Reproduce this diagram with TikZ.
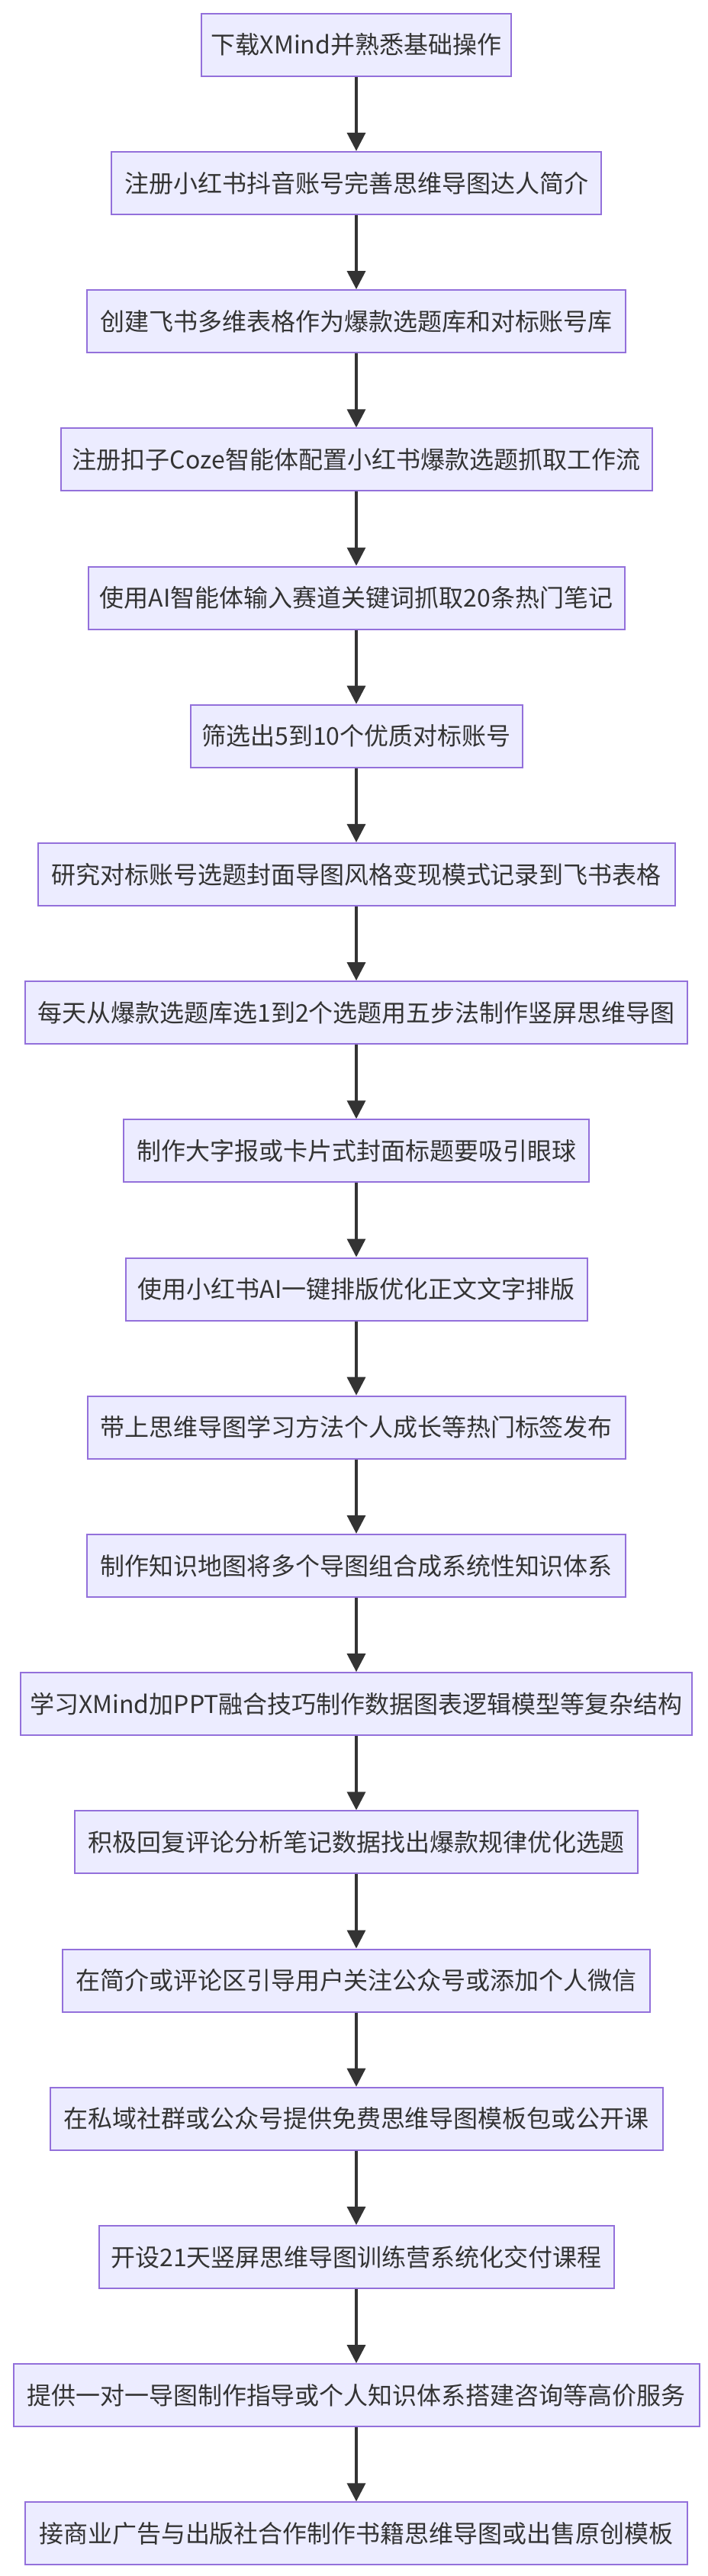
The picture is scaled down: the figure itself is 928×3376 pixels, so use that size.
\documentclass[tikz,border=0pt]{standalone}
\usepackage{fontspec}
\setmainfont{Noto Sans CJK SC}
\usetikzlibrary{arrows.meta}
\definecolor{boxfill}{HTML}{ECECFF}
\definecolor{boxline}{HTML}{9370DB}
\definecolor{ink}{HTML}{333333}
\begin{document}
\begin{tikzpicture}[x=1pt,y=1pt,
  stepbox/.style={draw=boxline, fill=boxfill, line width=2pt, rectangle,
    minimum height=82pt, inner xsep=12pt, inner ysep=0pt, text=ink,
    font=\fontsize{32}{38}\selectfont},
  flow/.style={draw=ink, line width=3.5pt, -{Triangle[length=24pt,width=24pt]}}]
\useasboundingbox (0,0) rectangle (928,-3376);
\foreach \t/\w [count=\i] in {
  下载XMind并熟悉基础操作/406,
  注册小红书抖音账号完善思维导图达人简介/642,
  创建飞书多维表格作为爆款选题库和对标账号库/706,
  注册扣子Coze智能体配置小红书爆款选题抓取工作流/775,
  使用AI智能体输入赛道关键词抓取20条热门笔记/703,
  筛选出5到10个优质对标账号/435,
  研究对标账号选题封面导图风格变现模式记录到飞书表格/835,
  每天从爆款选题库选1到2个选题用五步法制作竖屏思维导图/868,
  制作大字报或卡片式封面标题要吸引眼球/610,
  使用小红书AI一键排版优化正文文字排版/605,
  带上思维导图学习方法个人成长等热门标签发布/705,
  制作知识地图将多个导图组合成系统性知识体系/706,
  学习XMind加PPT融合技巧制作数据图表逻辑模型等复杂结构/877,
  积极回复评论分析笔记数据找出爆款规律优化选题/738,
  在简介或评论区引导用户关注公众号或添加个人微信/770,
  在私域社群或公众号提供免费思维导图模板包或公开课/803,
  开设21天竖屏思维导图训练营系统化交付课程/675,
  提供一对一导图制作指导或个人知识体系搭建咨询等高价服务/899,
  接商业广告与出版社合作制作书籍思维导图或出售原创模板/868}{
  \node[stepbox, minimum width=\w pt] (n\i) at (467, {-58.7-(\i-1)*181.2}) {\t};
}
\foreach \i [evaluate=\i as \j using int(\i+1)] in {1,...,18}{
  \draw[flow] (n\i.south) -- (n\j.north);
}
\end{tikzpicture}
\end{document}
